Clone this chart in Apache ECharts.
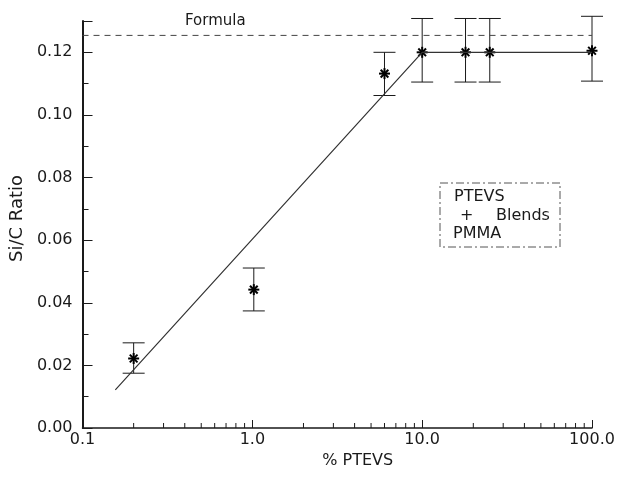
<!DOCTYPE html>
<html><head><meta charset="utf-8">
<script src="https://cdn.jsdelivr.net/npm/echarts@6/dist/echarts.min.js"></script>
<style>html,body{margin:0;background:#fff}#c{width:621px;height:477px}</style>
</head><body><div id="c"></div>
<script>
// ---- data ----
const pctPTEVS = [0.2, 1.02, 6.0, 10.0, 18.0, 25.0, 100.0];
const siC      = [0.0222, 0.0442, 0.1132, 0.1200, 0.1200, 0.1200, 0.1205];
const errLow   = [0.0175, 0.0374, 0.1062, 0.1105, 0.1105, 0.1105, 0.1108];
const errHigh  = [0.0272, 0.0511, 0.1200, 0.1308, 0.1308, 0.1308, 0.1315];
const fitX = [0.156, 10.0, 100.0];
const fitY = [0.0122, 0.1200, 0.1200];
const formulaX = [0.1, 100.0];
const formulaY = [0.1254, 0.1254];
const xMinorTicks = [0.2,0.3,0.4,0.5,0.6,0.7,0.8,0.9,2,3,4,5,6,7,8,9,20,30,40,50,60,70,80,90];
const xTickLabels = {0.1:'0.1', 1:'1.0', 10:'10.0', 100:'100.0'};

const FONT = '"DejaVu Sans", sans-serif';
const INK = '#1a1a1a';

const chart = echarts.init(document.getElementById('c'), null, {renderer:'canvas'});
const option = {
  animation: false,
  backgroundColor: '#fff',
  grid: {left: 82, right: 29, top: 21, bottom: 49},
  xAxis: {
    type: 'log', logBase: 10, min: 0.1, max: 100,
    name: '% PTEVS', nameLocation: 'middle', nameGap: 22,
    nameTextStyle: {fontFamily: FONT, fontSize: 16, color: INK, padding: [0,0,0,41]},
    axisLine: {lineStyle: {color: INK, width: 1.5}},
    axisTick: {inside: true, length: 8, lineStyle: {color: INK}},
    minorTick: {show: false},
    splitLine: {show: false},
    axisLabel: {fontFamily: FONT, fontSize: 16, color: INK, margin: 4,
      formatter: v => { const r = Math.round(v*10)/10; return xTickLabels[r] !== undefined ? xTickLabels[r] : r.toFixed(1); }}
  },
  yAxis: {
    type: 'value', min: 0, max: 0.13, interval: 0.02,
    name: 'Si/C Ratio', nameLocation: 'middle', nameGap: 55,
    nameTextStyle: {fontFamily: FONT, fontSize: 18, color: INK, padding: [0,0,0,12]},
    axisLine: {show: true, lineStyle: {color: INK, width: 2}},
    axisTick: {inside: true, length: 10, lineStyle: {color: INK}},
    minorTick: {show: true, splitNumber: 2, length: 6, lineStyle: {color: INK}},
    splitLine: {show: false},
    minorSplitLine: {show: false},
    axisLabel: {fontFamily: FONT, fontSize: 16, color: INK, margin: 10,
      formatter: v => (v > 0.125 ? '' : v.toFixed(2))}
  },
  graphic: [
    {type: 'text', left: 185, top: 14, style: {text: 'Formula', font: '15px ' + FONT, fill: INK}},
    {type: 'rect', shape: {x: 440, y: 183, width: 120, height: 64},
     style: {fill: 'none', stroke: '#555', lineWidth: 1, lineDash: [8, 3, 2, 3]}},
    {type: 'text', left: 454, top: 189, style: {text: 'PTEVS', font: '16px ' + FONT, fill: INK}},
    {type: 'text', left: 460, top: 208, style: {text: '+', font: '16px ' + FONT, fill: INK}},
    {type: 'text', left: 496, top: 208, style: {text: 'Blends', font: '16px ' + FONT, fill: INK}},
    {type: 'text', left: 453, top: 226, style: {text: 'PMMA', font: '16px ' + FONT, fill: INK}}
  ],
  series: [
    {
      type: 'line', name: 'Formula', symbol: 'none', silent: true,
      data: formulaX.map((x, i) => [x, formulaY[i]]),
      lineStyle: {color: '#444', width: 1, type: [6, 5]}
    },
    {
      type: 'line', name: 'fit', symbol: 'none', silent: true,
      data: fitX.map((x, i) => [x, fitY[i]]),
      lineStyle: {color: '#333', width: 1.2}
    },
    {
      type: 'custom', name: 'minor x ticks', silent: true, clip: false,
      data: xMinorTicks.map(v => [v, 0]),
      encode: {x: 0, y: 1},
      renderItem: (params, api) => {
        const p = api.coord([api.value(0), 0]);
        return {type: 'line', shape: {x1: p[0], y1: p[1], x2: p[0], y2: p[1] - 5},
                style: {stroke: INK, lineWidth: 1}};
      }
    },
    {
      type: 'custom', name: 'Si/C', clip: false,
      data: pctPTEVS.map((x, i) => [x, errLow[i], errHigh[i], siC[i]]),
      encode: {x: 0, y: [1, 2, 3]},
      renderItem: (params, api) => {
        const x = api.value(0);
        const lo = api.coord([x, api.value(1)]);
        const hi = api.coord([x, api.value(2)]);
        const p = api.coord([x, api.value(3)]);
        const w = 11, s = 5.5;
        const st = {stroke: INK, lineWidth: 1};
        const ss = {stroke: '#000', lineWidth: 2};
        const ch = [
          {type: 'line', shape: {x1: lo[0], y1: lo[1], x2: hi[0], y2: hi[1]}, style: st},
          {type: 'line', shape: {x1: lo[0]-w, y1: lo[1], x2: lo[0]+w, y2: lo[1]}, style: st},
          {type: 'line', shape: {x1: hi[0]-w, y1: hi[1], x2: hi[0]+w, y2: hi[1]}, style: st},
          {type: 'line', shape: {x1: p[0]-s, y1: p[1], x2: p[0]+s, y2: p[1]}, style: ss},
          {type: 'line', shape: {x1: p[0]-s*0.7, y1: p[1]-s*0.7, x2: p[0]+s*0.7, y2: p[1]+s*0.7}, style: ss},
          {type: 'line', shape: {x1: p[0]-s*0.7, y1: p[1]+s*0.7, x2: p[0]+s*0.7, y2: p[1]-s*0.7}, style: ss},
          {type: 'line', shape: {x1: p[0], y1: p[1]-s, x2: p[0], y2: p[1]+s}, style: ss}
        ];
        return {type: 'group', children: ch};
      }
    }
  ]
};
chart.setOption(option);
</script>
</body></html>
